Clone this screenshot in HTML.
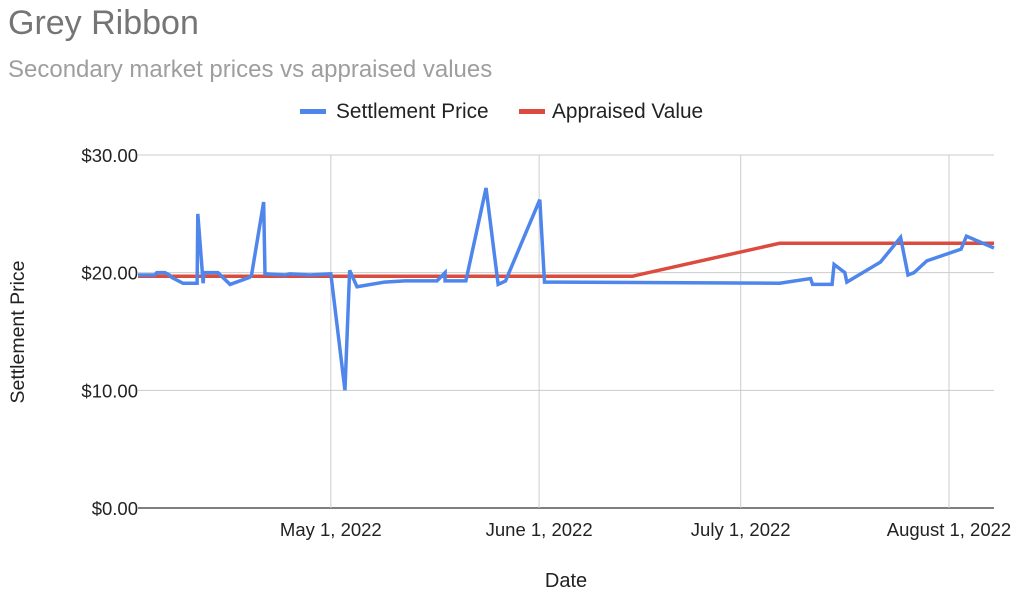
<!DOCTYPE html>
<html><head><meta charset="utf-8"><style>
body{margin:0;background:#fff;font-family:"Liberation Sans",sans-serif}
svg text{font-family:"Liberation Sans",sans-serif}
</style></head><body>
<svg id="c" width="1024" height="604">
<text x="8" y="34" font-size="34" fill="#757575">Grey Ribbon</text>
<text x="8" y="77" font-size="24" fill="#9e9e9e">Secondary market prices vs appraised values</text>
<g>
<g><rect x="300" y="109" width="26" height="5" fill="#4f86ec"/><text x="336" y="118" font-size="20.8" fill="#222">Settlement Price</text></g>
<g><rect x="519" y="109" width="26" height="5" fill="#db4c3f"/><text x="552" y="118" font-size="20.8" fill="#222">Appraised Value</text></g>
</g>
<g id="grid"></g><g id="series"></g>
<text x="566" y="587" font-size="20" text-anchor="middle" fill="#222">Date</text>
<text transform="translate(24,332) rotate(-90)" font-size="19.5" text-anchor="middle" fill="#222">Settlement Price</text>
</svg>
<script>
const yTicks=[0,10,20,30];
const yTickLabels=["$0.00","$10.00","$20.00","$30.00"];
const xTicks=[0,31,61,92];
const xTickLabels=["May 1, 2022","June 1, 2022","July 1, 2022","August 1, 2022"];
const settleDays=[-28.7,-26.2,-25.9,-24.7,-24,-23.7,-22,-19.9,-19.8,-19,-18.9,-16.8,-15,-12.1,-11.8,-10,-9.8,-6.8,-6.1,-3.1,0,2.1,2.8,3.9,8,11,15.8,17,17,20.1,23.1,24.9,26,31.1,31.8,34.1,66.8,71.4,71.7,74.6,74.9,76.5,76.8,81.8,84.8,85.9,86.8,88.7,93.8,94.6,98.7];
const settlePrices=[19.8,19.8,20,20,19.8,19.6,19.1,19.1,25,19.1,20,20,19,19.6,19.8,26,19.9,19.8,19.9,19.8,19.9,10,20.2,18.8,19.2,19.3,19.3,20,19.3,19.3,27.2,19,19.3,26.2,19.2,19.2,19.1,19.5,19,19,20.7,20,19.2,20.9,23,19.8,20,21,22,23.1,22.1];
const apprDays=[-28.7,44.9,66.8,98.7];
const apprValues=[19.7,19.7,22.5,22.5];
const NS="http://www.w3.org/2000/svg";
const X0=138,X1=994,D0=-28.7,D1=98.7,Y0=508,Y1=155;
const xs=d=>X0+(d-D0)/(D1-D0)*(X1-X0);
const ys=v=>Y0-(v/30)*(Y0-Y1);
const g=document.getElementById('grid'),s=document.getElementById('series');
function mk(t,a,p){const e=document.createElementNS(NS,t);for(const k in a)e.setAttribute(k,a[k]);p.appendChild(e);return e;}
yTicks.forEach((v,i)=>{
 const l=mk('line',{x1:X0,x2:X1,y1:ys(v),y2:ys(v),stroke:v===0?'#333':'#ccc','stroke-width':v===0?1.2:1},g);
 
 
 const t=mk('text',{x:138,y:ys(v)+7,'font-size':18.5,'text-anchor':'end',fill:'#222'},g);
 t.textContent=yTickLabels[i];
 
 
});
xTicks.forEach((d,i)=>{
 const l=mk('line',{x1:xs(d),x2:xs(d),y1:Y1,y2:Y0,stroke:'#ccc'},g);
 
 
 const t=mk('text',{x:xs(d),y:536,'font-size':18.5,'text-anchor':'middle',fill:'#222'},g);
 t.textContent=xTickLabels[i];
 
 
});
const ap=mk('polyline',{points:apprDays.map((d,i)=>xs(d)+','+ys(apprValues[i])).join(' '),fill:'none',stroke:'#db4c3f','stroke-width':3.5},s);


const sp=mk('polyline',{points:settleDays.map((d,i)=>xs(d)+','+ys(settlePrices[i])).join(' '),fill:'none',stroke:'#4f86ec','stroke-width':3.5,'stroke-linejoin':'miter'},s);


</script>
</body></html>
